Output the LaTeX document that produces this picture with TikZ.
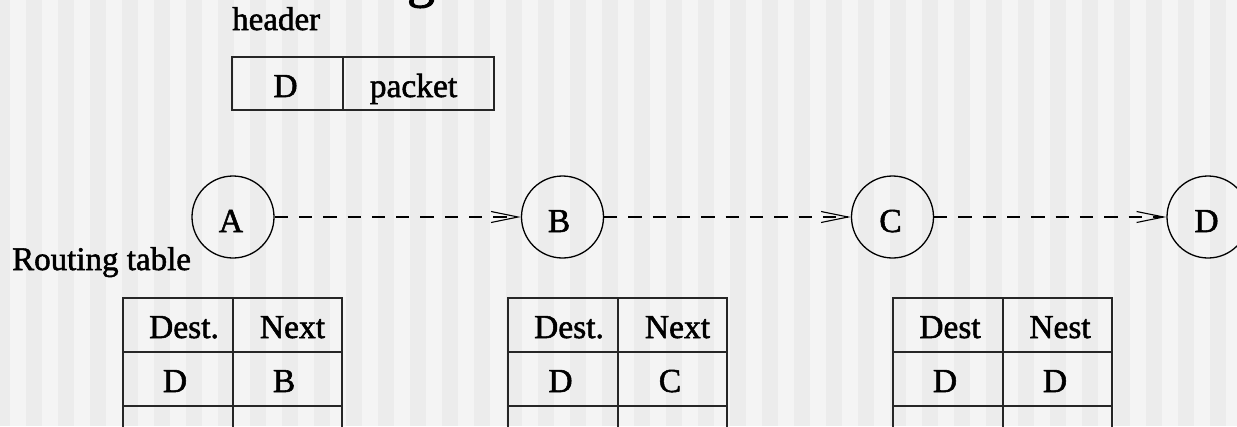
\documentclass[tikz,border=0pt]{standalone}
\usepackage{fontspec}
\setmainfont{Liberation Serif}
\newfontfamily\heavy{Liberation Serif}[FakeBold=1.6]
\usetikzlibrary{arrows.meta}
\definecolor{stripeA}{HTML}{F4F4F4}
\definecolor{stripeB}{HTML}{ECECEC}
\begin{document}
\begin{tikzpicture}[x=1pt,y=-1pt,
  txt/.style={font=\heavy\fontsize{33.5}{38}\selectfont, inner sep=0pt, anchor=base},
  lbl/.style={font=\heavy\fontsize{33}{37}\selectfont, inner sep=0pt, anchor=base west},
  netnode/.style={circle, draw=black, line width=1.3pt, minimum size=82pt, inner sep=0pt},
  conn/.style={draw=black, line width=1.2pt, dash pattern=on 13.3pt off 11pt,
    -{Straight Barb[length=27pt,width=11pt,line width=1.1pt]}},
  gridline/.style={draw=black!85, line width=1.8pt}]
\useasboundingbox (0,0) rectangle (1237,426);
% background
\fill[stripeA] (0,0) rectangle (1237,426);
\foreach \k in {-1,...,37} \fill[stripeB] ({26+32*\k},0) rectangle ({42+32*\k},426);
% fragment of title
\node[font=\heavy\fontsize{56}{60}\selectfont, inner sep=0pt, anchor=base] (title) at (421,-4) {g};
% header
\node[lbl] (hdr) at (232,30) {header};
\draw[gridline] (232,57) rectangle (494,110);
\draw[gridline] (343,57) -- (343,110);
\node[txt] (hD) at (285.5,97) {D};
\node[txt] (hP) at (413.5,97) {packet};
% network nodes
\node[netnode] (A) at (233,217) {};
\node[netnode] (B) at (562.5,217) {};
\node[netnode] (C) at (892.5,217) {};
\node[netnode] (D) at (1208,217) {};
\node[txt] (tA) at (231,232) {A};
\node[txt] (tB) at (559,232) {B};
\node[txt] (tC) at (890.5,232) {C};
\node[txt] (tD) at (1206.5,232) {D};
\draw[conn] (A) -- (B);
\draw[conn] (B) -- (C);
\draw[conn] (C) -- (D);
% routing table label
\node[lbl] (rt) at (12,270) {Routing table};
% tables
\foreach \L/\hx/\nx/\h/\n/\dv/\nv/\dx/\vx [count=\i] in
  {123/61/169.5/Dest./Next/D/B/52/161,
   508/61/169.5/Dest./Next/D/C/52.5/162,
   893/57/167/Dest/Nest/D/D/52/162}{
  \draw[gridline] (\L,440) -- (\L,298) -- ({\L+219},298) -- ({\L+219},440);
  \draw[gridline] ({\L+110},298) -- ({\L+110},440);
  \draw[gridline] (\L,352) -- ({\L+219},352);
  \draw[gridline] (\L,406) -- ({\L+219},406);
  \node[txt] (th\i) at ({\L+\hx},338) {\h};
  \node[txt] (tn\i) at ({\L+\nx},338) {\n};
  \node[txt] (td\i) at ({\L+\dx},392) {\dv};
  \node[txt] (tv\i) at ({\L+\vx},392) {\nv};
}
\end{tikzpicture}
\end{document}
